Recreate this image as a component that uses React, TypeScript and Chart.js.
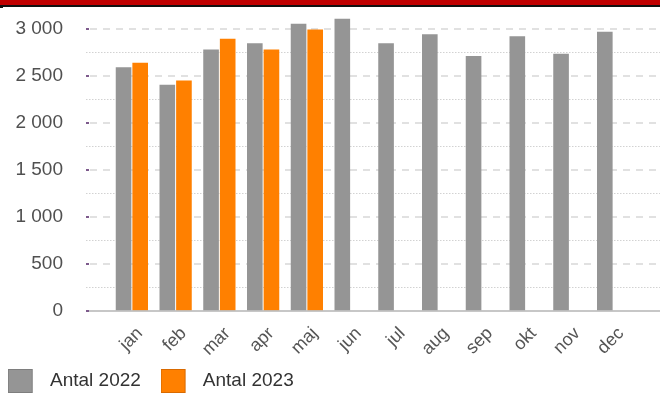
import React, { useEffect, useRef } from "react";
import { Chart, registerables } from "chart.js";

Chart.register(...registerables);

const months = ["jan", "feb", "mar", "apr", "maj", "jun", "jul", "aug", "sep", "okt", "nov", "dec"];
const antal2022 = [2590, 2403, 2777, 2844, 3050, 3103, 2844, 2940, 2707, 2918, 2731, 2965];
const antal2023 = [2636, 2449, 2891, 2777, 2989, null, null, null, null, null, null, null];
const seriesLabels = ["Antal 2022", "Antal 2023"];
const seriesColors = ["#959595", "#ff8000"];
const seriesBorders = ["#7e7e7e", "#d96a00"];
const yTicks = [0, 500, 1000, 1500, 2000, 2500, 3000];
const yMinorTicks = [250, 750, 1250, 1750, 2250, 2750];
const yMax = 3150;

const FONT = "'Liberation Sans', Arial, Helvetica, sans-serif";

function fmt(v: number): string {
  const s = String(Math.round(v));
  return s.replace(/\B(?=(\d{3})+(?!\d))/g, " ");
}

function makeLegendImage(fill: string, stroke: string): HTMLCanvasElement {
  const c = document.createElement("canvas");
  c.width = 33;
  c.height = 24;
  const g = c.getContext("2d")!;
  g.fillStyle = fill;
  g.fillRect(0, 0, 25, 24);
  g.strokeStyle = stroke;
  g.lineWidth = 1;
  g.strokeRect(0.5, 0.5, 24, 23);
  return c;
}

const gridPlugin = {
  id: "customGrid",
  beforeDatasetsDraw(chart: any) {
    const { ctx, chartArea, scales } = chart;
    const y = scales.y;
    const x0 = chartArea.left - 24;
    const x1 = chart.width;
    ctx.save();
    ctx.strokeStyle = "#d2d2d2";
    ctx.lineWidth = 1;
    ctx.setLineDash([1.5, 1.5]);
    yMinorTicks.forEach((v) => {
      const py = Math.round(y.getPixelForValue(v)) + 0.5;
      ctx.beginPath();
      ctx.moveTo(x0, py);
      ctx.lineTo(x1, py);
      ctx.stroke();
    });
    ctx.strokeStyle = "#d8d8d8";
    ctx.lineWidth = 1.5;
    ctx.setLineDash([7, 6]);
    ctx.lineDashOffset = -4;
    yTicks.forEach((v) => {
      if (v === 0) return;
      const py = Math.round(y.getPixelForValue(v));
      ctx.beginPath();
      ctx.moveTo(x0, py);
      ctx.lineTo(x1, py);
      ctx.stroke();
    });
    ctx.restore();
  },
  afterDatasetsDraw(chart: any) {
    const { ctx, chartArea, scales } = chart;
    const y = scales.y;
    const x0 = chartArea.left - 24;
    const x1 = chart.width;
    ctx.save();
    const p0 = Math.round(y.getPixelForValue(0));
    ctx.strokeStyle = "#b5b5b5";
    ctx.lineWidth = 1.5;
    ctx.beginPath();
    ctx.moveTo(x0, p0);
    ctx.lineTo(x1, p0);
    ctx.stroke();
    ctx.fillStyle = "#7d5a8c";
    yTicks.forEach((v) => {
      const py = Math.round(y.getPixelForValue(v));
      ctx.fillRect(x0, py - 1, 3, 2);
    });
    ctx.restore();
  },
  afterLayout(chart: any) {
    const l = chart.legend;
    if (l) {
      l.left -= 12;
      l.right -= 12;
      l.top += 6.5;
      l.bottom += 6.5;
    }
  },
};

export default function App() {
  const ref = useRef<HTMLCanvasElement | null>(null);

  useEffect(() => {
    if (!ref.current) return;
    const imgs = [
      makeLegendImage(seriesColors[0], seriesBorders[0]),
      makeLegendImage(seriesColors[1], seriesBorders[1]),
    ];
    const chart = new Chart(ref.current, {
      type: "bar",
      data: {
        labels: months,
        datasets: [
          {
            label: seriesLabels[0],
            data: antal2022,
            backgroundColor: seriesColors[0],
            categoryPercentage: 0.76,
            barPercentage: 0.94,
          },
          {
            label: seriesLabels[1],
            data: antal2023,
            backgroundColor: seriesColors[1],
            categoryPercentage: 0.76,
            barPercentage: 0.94,
          },
        ],
      },
      options: {
        responsive: false,
        animation: false,
        layout: { padding: { left: 0, right: 25, top: 0, bottom: 0 } },
        font: { family: FONT },
        scales: {
          x: {
            grid: { display: false },
            border: { display: false },
            ticks: {
              color: "#555555",
              font: { family: FONT, size: 18 },
              minRotation: 45,
              maxRotation: 45,
              padding: 4,
              labelOffset: 8,
            },
            afterFit: (s: any) => {
              s.height = 34;
              s._computeLabelArea = () => undefined;
            },
          },
          y: {
            min: 0,
            max: yMax,
            border: { display: false },
            grid: {
              display: true,
              drawOnChartArea: false,
              drawTicks: true,
              tickLength: 44,
              color: "rgba(0,0,0,0)",
            },
            ticks: {
              color: "#505050",
              font: { family: FONT, size: 19 },
              padding: 3,
              callback: (v: any) => fmt(Number(v)),
            },
            afterBuildTicks: (s: any) => {
              s.ticks = yTicks.map((v) => ({ value: v }));
            },
            afterFit: (s: any) => {
              s.width = 110;
            },
          },
        },
        plugins: {
          tooltip: { enabled: false },
          legend: {
            position: "bottom",
            align: "start",
            labels: {
              usePointStyle: true,
              pointStyleWidth: 32.5,
              padding: 20,
              color: "#333333",
              font: { family: FONT, size: 19 },
              generateLabels: (c: any) => {
                const items = (Chart as any).defaults.plugins.legend.labels.generateLabels(c);
                return items.map((it: any, i: number) => ({ ...it, pointStyle: imgs[i] }));
              },
            },
          },
        },
      },
      plugins: [gridPlugin],
    } as any);
    return () => chart.destroy();
  }, []);

  return (
    <div style={{ position: "fixed", left: 0, top: 0, width: 660, height: 394, background: "#ffffff", overflow: "hidden" }}>
      <canvas ref={ref} width={660} height={394} style={{ position: "absolute", left: 0, top: 0, width: 660, height: 394 }} />
      <div style={{ position: "absolute", left: 0, top: 0, width: 660, height: 5, background: "#c00000" }} />
      <div style={{ position: "absolute", left: 0, top: 5, width: 660, height: 1.5, background: "#111111" }} />
      <div style={{ position: "absolute", left: 0, top: 6, width: 3, height: 2, background: "#111111" }} />
    </div>
  );
}
